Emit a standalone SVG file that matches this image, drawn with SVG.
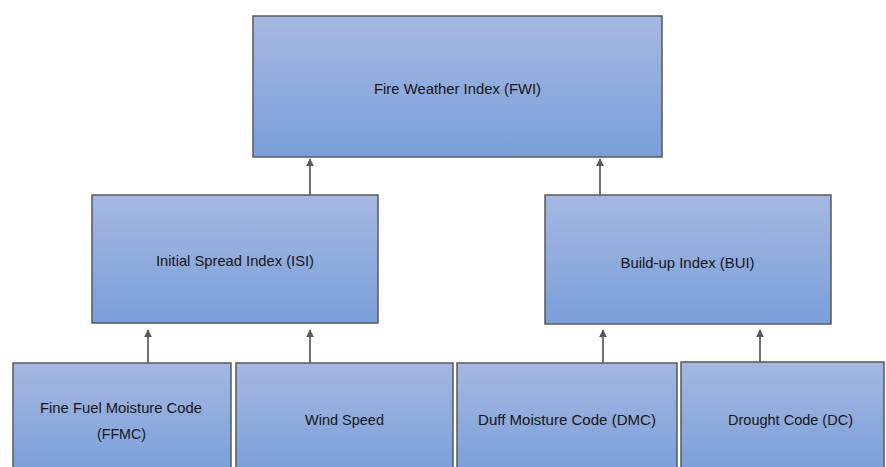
<svg xmlns="http://www.w3.org/2000/svg" width="886" height="467" viewBox="0 0 886 467">
  <defs>
    <linearGradient id="boxFill" x1="0" y1="0" x2="0" y2="1">
      <stop offset="0" stop-color="#a5b8e1"/>
      <stop offset="1" stop-color="#7a9fda"/>
    </linearGradient>
    <marker id="arrowHead" viewBox="0 0 10 10" refX="9" refY="5" markerWidth="8" markerHeight="8" markerUnits="userSpaceOnUse" orient="auto">
      <path d="M0,0 L10,5 L0,10 Z" fill="#595959"/>
    </marker>
  </defs>
  <style>
    .box { fill: url(#boxFill); stroke: #595959; stroke-width: 1.5; }
    .label { font-family: "Liberation Sans", Arial, sans-serif; font-size: 15px; fill: #161616; text-anchor: middle; }
    .link { stroke: #595959; stroke-width: 1.7; fill: none; marker-end: url(#arrowHead); }
  </style>
  <rect width="886" height="467" fill="#ffffff"/>

  <g id="connectors">
    <line class="link" x1="310" y1="195" x2="310" y2="159"/>
    <line class="link" x1="600" y1="195" x2="600" y2="159"/>
    <line class="link" x1="148" y1="363" x2="148" y2="330"/>
    <line class="link" x1="310" y1="363" x2="310" y2="330"/>
    <line class="link" x1="603" y1="363" x2="603" y2="330"/>
    <line class="link" x1="760" y1="362" x2="760" y2="330"/>
  </g>

  <g id="fwi">
    <rect class="box" x="253" y="16" width="409" height="141"/>
    <text class="label" x="457.5" y="93.5" textLength="167" lengthAdjust="spacingAndGlyphs">Fire Weather Index (FWI)</text>
  </g>

  <g id="isi">
    <rect class="box" x="92" y="195" width="286" height="128"/>
    <text class="label" x="235" y="265.5" textLength="158" lengthAdjust="spacingAndGlyphs">Initial Spread Index (ISI)</text>
  </g>

  <g id="bui">
    <rect class="box" x="545" y="195" width="286" height="129"/>
    <text class="label" x="687.5" y="267.5" textLength="134" lengthAdjust="spacingAndGlyphs">Build-up Index (BUI)</text>
  </g>

  <g id="ffmc">
    <rect class="box" x="13" y="363" width="218" height="110"/>
    <text class="label" x="121" y="412.5" textLength="162" lengthAdjust="spacingAndGlyphs">Fine Fuel Moisture Code</text>
    <text class="label" x="121.5" y="438.5" textLength="49" lengthAdjust="spacingAndGlyphs">(FFMC)</text>
  </g>

  <g id="wind">
    <rect class="box" x="236" y="363" width="217" height="110"/>
    <text class="label" x="344.5" y="424.5" textLength="79" lengthAdjust="spacingAndGlyphs">Wind Speed</text>
  </g>

  <g id="dmc">
    <rect class="box" x="457" y="363" width="220" height="110"/>
    <text class="label" x="567" y="424.5" textLength="178" lengthAdjust="spacingAndGlyphs">Duff Moisture Code (DMC)</text>
  </g>

  <g id="dc">
    <rect class="box" x="681" y="362" width="203" height="111"/>
    <text class="label" x="790.5" y="424.5" textLength="125" lengthAdjust="spacingAndGlyphs">Drought Code (DC)</text>
  </g>
</svg>
